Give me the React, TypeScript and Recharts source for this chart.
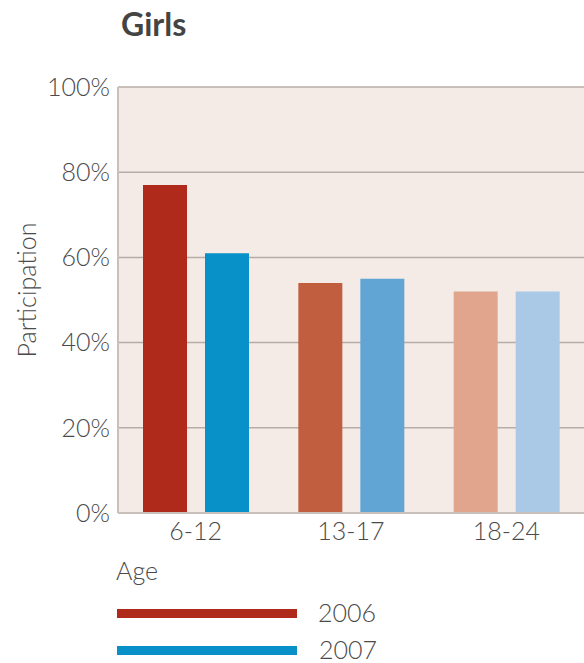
import { BarChart, Bar, XAxis, YAxis, CartesianGrid, Cell, Legend } from 'recharts'

// Girls participation by age group, 2006 vs 2007

const ageGroups = ['6-12', '13-17', '18-24']
const values2006 = [77, 54, 52]
const values2007 = [61, 55, 52]
const yTicks = [0, 20, 40, 60, 80, 100]

// shade per age group (dark → light)
const colors2006 = ['#b02a1c', '#c25e40', '#e0a58c']
const colors2007 = ['#0891c9', '#61a5d4', '#aac9e6']

const seriesNames = ['2006', '2007']
const legendColors = ['#b02a1c', '#0891c9']

const data = ageGroups.map((age, i) => ({
  age,
  y2006: values2006[i],
  y2007: values2007[i],
}))

const FONT = 'Lato, "Noto Sans", sans-serif'
const TEXT = '#4a4a4a'

function AgeLegend() {
  return (
    <div style={{ fontFamily: FONT, fontWeight: 300, color: TEXT, width: 400 }}>
      <div style={{ fontSize: 25, lineHeight: '30px', marginLeft: 116 }}>Age</div>
      {seriesNames.map((name, i) => (
        <div
          key={name}
          style={{
            display: 'flex',
            alignItems: 'center',
            height: 22,
            marginTop: i === 0 ? 17 : 15,
            marginLeft: 117,
          }}
        >
          <div style={{ width: 180, height: 9, background: legendColors[i] }} />
          <span
            style={{
              fontSize: 25,
              lineHeight: '22px',
              marginLeft: 21 + i,
              position: 'relative',
              top: -1,
            }}
          >
            {name}
          </span>
        </div>
      ))}
    </div>
  )
}

export default function App() {
  return (
    <div style={{ position: 'absolute', left: 0, top: 0, width: 584, height: 663, background: '#fff' }}>
      <div
        style={{
          position: 'absolute',
          left: 121,
          top: 4,
          fontFamily: FONT,
          fontWeight: 700,
          fontSize: 32,
          color: '#444',
        }}
      >
        Girls
      </div>

      <BarChart
        width={584}
        height={663}
        data={data}
        margin={{ top: 87, right: 0, bottom: 0, left: 0 }}
        barCategoryGap={24}
        barGap={18}
      >
        <CartesianGrid
          vertical={false}
          stroke="#b8aca8"
          strokeWidth={1.5}
          fill="#f5ebe6"
          horizontalValues={yTicks}
        />
        <XAxis
          dataKey="age"
          height={150}
          tickSize={0}
          tickMargin={9}
          axisLine={{ stroke: '#c9c0bc', strokeWidth: 2 }}
          tick={{ fill: TEXT, fontSize: 25, fontFamily: FONT, fontWeight: 300 }}
        />
        <YAxis
          width={118}
          domain={[0, 100]}
          ticks={yTicks}
          tickFormatter={(v) => `${v}%`}
          tickSize={0}
          tickMargin={8}
          axisLine={{ stroke: '#c9c0bc', strokeWidth: 2 }}
          tick={{ fill: TEXT, fontSize: 25, fontFamily: FONT, fontWeight: 300 }}
          label={{
            value: 'Participation',
            angle: -90,
            position: 'center',
            dx: -32,
            dy: -10,
            fill: TEXT,
            fontSize: 25,
            fontFamily: FONT,
            fontWeight: 300,
          }}
        />
        <Legend
          layout="vertical"
          align="center"
          verticalAlign="middle"
          wrapperStyle={{ position: 'absolute', left: 0, top: 555, width: 400 }}
          content={() => <AgeLegend />}
        />
        <Bar dataKey="y2006" name="2006" barSize={44} isAnimationActive={false}>
          {data.map((d, i) => (
            <Cell key={d.age} fill={colors2006[i]} />
          ))}
        </Bar>
        <Bar dataKey="y2007" name="2007" barSize={44} isAnimationActive={false}>
          {data.map((d, i) => (
            <Cell key={d.age} fill={colors2007[i]} />
          ))}
        </Bar>
      </BarChart>
    </div>
  )
}
